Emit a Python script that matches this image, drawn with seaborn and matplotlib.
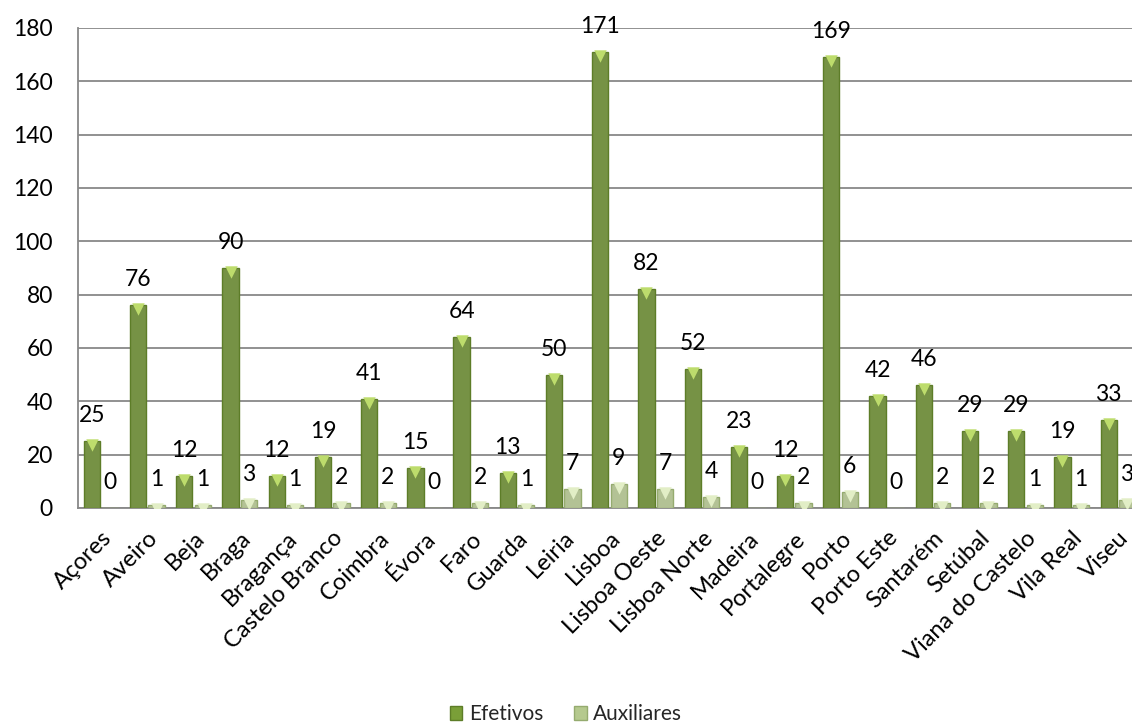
import matplotlib
matplotlib.use("Agg")
import numpy as np
import pandas as pd
import seaborn as sns
import matplotlib.pyplot as plt
from matplotlib.patches import Patch
import matplotlib.transforms as mtransforms

categories = ["Açores", "Aveiro", "Beja", "Braga", "Bragança", "Castelo Branco",
              "Coimbra", "Évora", "Faro", "Guarda", "Leiria", "Lisboa",
              "Lisboa Oeste", "Lisboa Norte", "Madeira", "Portalegre", "Porto",
              "Porto Este", "Santarém", "Setúbal", "Viana do Castelo",
              "Vila Real", "Viseu"]
efetivos = [25, 76, 12, 90, 12, 19, 41, 15, 64, 13, 50, 171, 82, 52, 23, 12,
            169, 42, 46, 29, 29, 19, 33]
auxiliares = [0, 1, 1, 3, 1, 2, 2, 0, 2, 1, 7, 9, 7, 4, 0, 2, 6, 0, 2, 2, 1,
              1, 3]
series_names = ["Efetivos", "Auxiliares"]
y_ticks = list(range(0, 181, 20))

sns.set_theme(style="white")
plt.rcParams["font.family"] = ["Lato", "DejaVu Sans"]

df = pd.DataFrame({
    "Distrito": categories * 2,
    "Valor": efetivos + auxiliares,
    "Série": [series_names[0]] * len(categories) + [series_names[1]] * len(categories),
})

colors = {"Efetivos": "#7a9f38", "Auxiliares": "#b5c98e"}
edges = {"Efetivos": "#5d7d28", "Auxiliares": "#95ab6f"}
bevel = {"Efetivos": "#bddc6c", "Auxiliares": "#e2eec6"}

fig = plt.figure(figsize=(11.32, 7.27), dpi=100)
ax = fig.add_axes([78 / 1132, 219 / 727, 1063 / 1132, 480 / 727])

sns.barplot(data=df, x="Distrito", y="Valor", hue="Série", palette=colors,
            hue_order=series_names, width=0.8, gap=0.12, ax=ax, legend=False,
            errorbar=None, zorder=3)

ax.set_xlabel("")
ax.set_ylabel("")
ax.yaxis.grid(True, color="#888888", linewidth=1.3, zorder=0)
ax.set_axisbelow(True)
for s in ["top", "right"]:
    ax.spines[s].set_visible(False)
for s in ["left", "bottom"]:
    ax.spines[s].set_color("#888888")
    ax.spines[s].set_linewidth(1.3)
ax.tick_params(axis="y", length=0, pad=18, labelsize=16.5, labelcolor="black")
ax.tick_params(axis="x", length=0, pad=14, labelsize=17, labelcolor="black")
plt.setp(ax.get_xticklabels(), rotation=45, ha="right", rotation_mode="anchor")

px = 72 / 100.0
down = mtransforms.ScaledTranslation(0, -4 / 100.0, fig.dpi_scale_trans)
for name, cont in zip(series_names, ax.containers):
    for bar in cont:
        bar.set_edgecolor(edges[name])
        bar.set_linewidth(1.0)
        h = bar.get_height()
        cx = bar.get_x() + bar.get_width() / 2
        ax.annotate(f"{int(round(h))}", (cx, h), xytext=(0, 19 * px),
                    textcoords="offset points", ha="center", va="baseline",
                    fontsize=16.5, color="black", zorder=5)
        if h > 0:
            ax.scatter([cx], [h], marker="v", s=80, color=bevel[name],
                       linewidths=0, zorder=4, transform=ax.transData + down,
                       clip_on=True)

ax.set_xlim(-0.5, len(categories) - 0.5)
ax.set_ylim(0, 180)
ax.set_yticks(y_ticks)

handles = [Patch(facecolor=colors[n], edgecolor=edges[n], label=n) for n in series_names]
fig.legend(handles=handles, loc="lower center", bbox_to_anchor=(0.5, -0.022),
           ncol=2, frameon=False, fontsize=15, handlelength=0.6,
           handleheight=0.6, handletextpad=0.3, columnspacing=1.5)

fig.savefig("out.png", dpi=100)
